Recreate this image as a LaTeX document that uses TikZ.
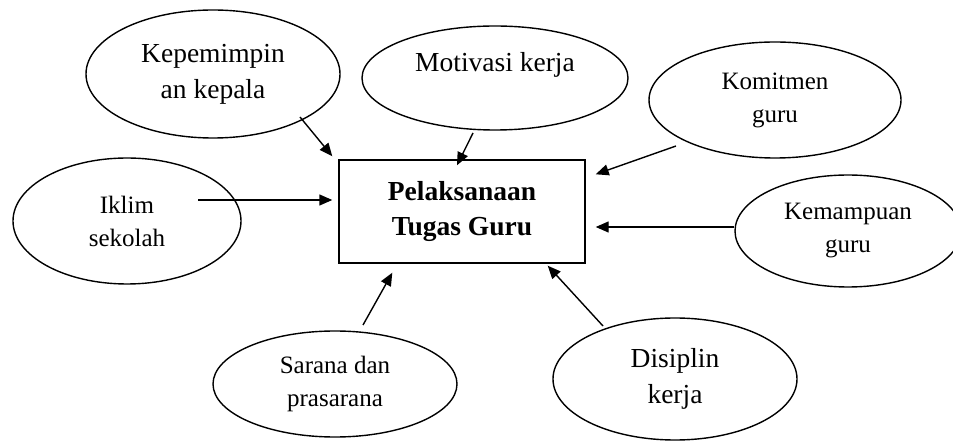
\documentclass[tikz,border=0pt]{standalone}
\usepackage{fontspec}
\setmainfont{Liberation Serif}
\usetikzlibrary{calc,positioning,shapes,arrows.meta}
\tikzset{
  oval/.style={draw, ellipse, line width=1.4pt, inner sep=0pt, align=center},
  bigtext/.style={font=\fontsize{27.5}{36}\selectfont},
  smalltext/.style={font=\fontsize{25}{33}\selectfont},
  arr/.style={line width=1.4pt, -{Triangle[length=13pt,width=11pt]}}
}

\begin{document}
\begin{tikzpicture}[x=1pt, y=-1pt]
\useasboundingbox (0,0) rectangle (953,443);
\clip (0,0) rectangle (953,443);

\node[draw, line width=1.4pt, minimum width=246pt, minimum height=103pt, align=center,
      font=\bfseries\fontsize{27.5}{35}\selectfont] (tugas) at (462,211.5) {Pelaksanaan\\Tugas Guru};

\node[oval, bigtext, minimum width=254pt, minimum height=128pt] (kep) at (213,74) {Kepemimpin\\an kepala};
\node[oval, minimum width=266pt, minimum height=104pt,
      label={[bigtext, yshift=13pt]center:Motivasi kerja}] (mot) at (495,78) {};
\node[oval, smalltext, minimum width=252pt, minimum height=116pt] (kom) at (775,100) {Komitmen\\guru};
\node[oval, smalltext, minimum width=226pt, minimum height=112pt] (kem) at (848,231) {Kemampuan\\guru};
\node[oval, smalltext, minimum width=228pt, minimum height=126pt] (ikl) at (127,221) {Iklim\\sekolah};
\node[oval, smalltext, minimum width=244pt, minimum height=106pt] (sar) at (335,384) {Sarana dan\\prasarana};
\node[oval, bigtext, minimum width=244pt, minimum height=122pt] (dis) at (675,379) {Disiplin\\kerja};

%\draw[help lines] (0,0) grid (953,443);
\draw[arr] ($(kep.center)+(87,43)$) -- ($(tugas.north west)+(-6,-3)$);
\draw[arr] ($(mot.center)+(-22,55)$) -- ($(tugas.north)+(-5,6)$);
\draw[arr] ($(kom.center)+(-99,46)$) -- ($(tugas.north east)+(10,15)$);
\draw[arr] ($(kem.west)+(0,-4)$) -- ($(tugas.east)+(10,15.5)$);
\draw[arr] ($(ikl.center)+(71,-21)$) -- ($(tugas.west)+(-6,-11.5)$);
\draw[arr] ($(sar.center)+(28,-59)$) -- ($(tugas.south west)+(54,9)$);
\draw[arr] ($(dis.center)+(-72,-53)$) -- ($(tugas.south east)+(-38,2)$);
\end{tikzpicture}
\end{document}
